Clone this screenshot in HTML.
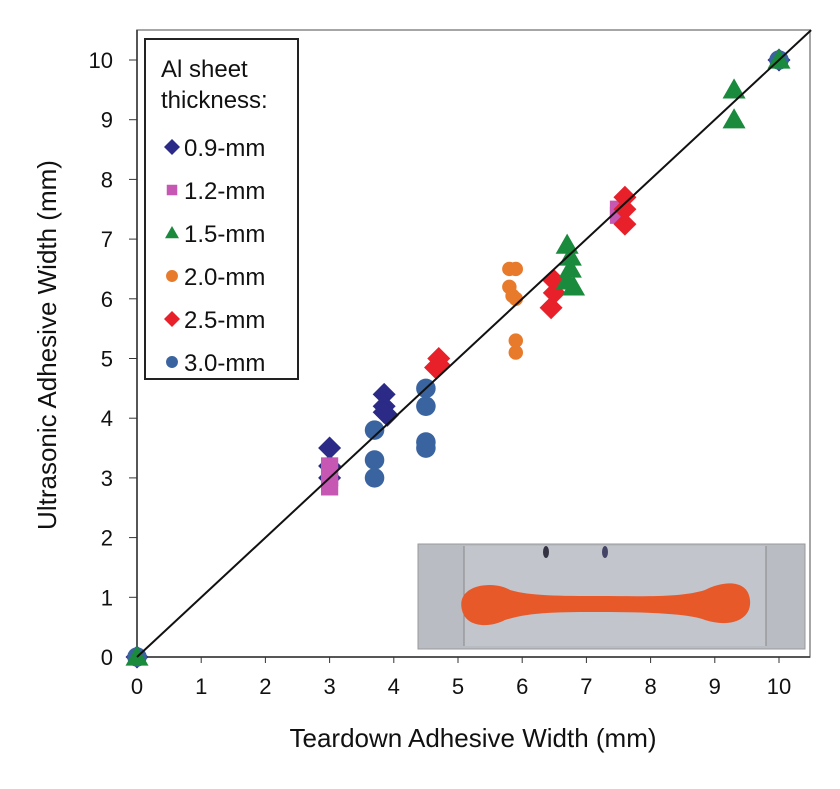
<!DOCTYPE html>
<html><head><meta charset="utf-8"><style>
body{margin:0;background:#fff;}
svg text{font-family:"Liberation Sans",Arial,sans-serif;fill:#111;}
</style></head><body>
<svg id="chart" width="840" height="784" viewBox="0 0 840 784" xmlns="http://www.w3.org/2000/svg">
<g id="frame"></g>
<g id="marks"></g>
</svg>
<script>
const xTicks=[0,1,2,3,4,5,6,7,8,9,10];
const yTicks=[0,1,2,3,4,5,6,7,8,9,10];
const s09=[[0,0],[3,3.5],[3,3.2],[3,3.0],[3.85,4.4],[3.85,4.2],[3.9,4.05],[3.85,4.1],[10,10]];
const s12=[[3,3.0],[3,2.85],[3,3.2],[7.5,7.5],[7.5,7.4]];
const s15=[[0,0],[6.7,6.9],[6.75,6.7],[6.75,6.5],[6.7,6.3],[6.8,6.2],[9.3,9.5],[9.3,9.0],[10,10]];
const s20=[[5.8,6.5],[5.9,6.5],[5.8,6.2],[5.85,6.05],[5.9,6.0],[5.9,5.3],[5.9,5.1]];
const s25=[[4.7,5.0],[4.7,4.9],[4.65,4.85],[6.5,6.3],[6.5,6.1],[6.45,5.85],[7.6,7.7],[7.6,7.5],[7.6,7.25]];
const s30=[[0,0],[3.7,3.8],[3.7,3.3],[3.7,3.0],[4.5,4.5],[4.5,4.2],[4.5,3.6],[4.5,3.5],[10,10]];
const legendLabels=["0.9-mm","1.2-mm","1.5-mm","2.0-mm","2.5-mm","3.0-mm"];

const NS="http://www.w3.org/2000/svg";
const X=v=>137+v*64.2;
const Y=v=>657-v*59.7;
function mk(tag,attrs,parent){const e=document.createElementNS(NS,tag);for(const k in attrs)e.setAttribute(k,attrs[k]);parent.appendChild(e);return e;}
const frame=document.getElementById('frame'),marks=document.getElementById('marks');

let r=mk('rect',{x:137,y:30,width:673,height:627,fill:'none',stroke:'#888','stroke-width':1.5},frame);



let ph=mk('g',{},frame);


mk('rect',{x:418,y:544,width:387,height:105,fill:'#b9bcc2',stroke:'#999'},ph);
mk('rect',{x:464,y:546,width:302,height:100,fill:'#c2c5cb'},ph);
mk('line',{x1:464,y1:546,x2:464,y2:646,stroke:'#888'},ph);
mk('line',{x1:766,y1:546,x2:766,y2:646,stroke:'#888'},ph);
mk('ellipse',{cx:546,cy:552,rx:3,ry:6,fill:'#334'},ph);
mk('ellipse',{cx:605,cy:552,rx:3,ry:6,fill:'#446'},ph);
mk('path',{d:'M490 585 C470 585 458 595 462 610 C466 628 490 628 505 620 C530 612 560 612 600 612 C650 612 690 614 705 620 C730 628 752 620 750 600 C748 580 725 580 705 590 C680 598 640 596 600 596 C560 596 530 596 510 590 C505 587 498 585 490 585 Z',fill:'#e8592a'},ph);

let ax=mk('path',{d:`M137 30 L137 657 L810 657`,fill:'none',stroke:'#333','stroke-width':1.5},frame);



xTicks.forEach(t=>{
  mk('line',{x1:X(t),y1:657,x2:X(t),y2:663,stroke:'#333'},frame);
  let tx=mk('text',{x:X(t),y:694,'font-size':22,'text-anchor':'middle'},frame);
  tx.textContent=t;
  
  
});
yTicks.forEach(t=>{
  mk('line',{x1:129,y1:Y(t),x2:137,y2:Y(t),stroke:'#333'},frame);
  let tx=mk('text',{x:113,y:Y(t)+8,'font-size':22,'text-anchor':'end'},frame);
  tx.textContent=t;
  
  
});
let xt=mk('text',{x:473,y:747,'font-size':26,'text-anchor':'middle'},frame);
xt.textContent='Teardown Adhesive Width (mm)';


let yt=mk('text',{x:0,y:0,'font-size':26,'text-anchor':'middle',transform:'translate(56,345) rotate(-90)'},frame);
yt.textContent='Ultrasonic Adhesive Width (mm)';



function marker(shape,color,cx,cy,sz,parent){
  if(shape==='d') return mk('polygon',{points:`${cx},${cy-sz} ${cx+sz},${cy} ${cx},${cy+sz} ${cx-sz},${cy}`,fill:color},parent);
  if(shape==='s') return mk('rect',{x:cx-sz*0.75,y:cy-sz*0.75,width:sz*1.5,height:sz*1.5,fill:color},parent);
  if(shape==='t') return mk('polygon',{points:`${cx},${cy-sz} ${cx+sz},${cy+sz*0.75} ${cx-sz},${cy+sz*0.75}`,fill:color},parent);
  return mk('circle',{cx:cx,cy:cy,r:sz*0.85,fill:color},parent);
}
const series=[[s09,'d','#2b2a86'],[s12,'s','#c658b4'],[s15,'t','#1a8a3c'],[s20,'c','#e87a2c'],[s25,'d','#e8202a'],[s30,'c','#3a64a0']];
const order=[3,0,1,5,4,2];
order.forEach(i=>{
  const [data,shape,color]=series[i];
  data.forEach(p=>{
    const sz=shape==='c'&&i===3?8.5:11.5;
    let m=marker(shape,color,X(p[0]),Y(p[1]),sz,marks);
    
    
  });
});
let ln=mk('line',{x1:X(0),y1:Y(0),x2:X(10.5),y2:Y(10.5),stroke:'#111','stroke-width':2},marks);



let lg=mk('g',{},marks);


mk('rect',{x:145,y:39,width:153,height:340,fill:'#fff',stroke:'#222','stroke-width':2},lg);
let l1=mk('text',{x:161,y:77,'font-size':24},lg);l1.textContent='Al sheet';
let l2=mk('text',{x:161,y:108,'font-size':24},lg);l2.textContent='thickness:';
legendLabels.forEach((lab,i)=>{
  const yy=147+i*43;
  const [,shape,color]=series[i];
  marker(shape,color,172,yy,shape==='d'?8:7,lg);
  let t=mk('text',{x:184,y:yy+9,'font-size':24},lg);
  t.textContent=lab;
  
  
});
</script>
</body></html>
